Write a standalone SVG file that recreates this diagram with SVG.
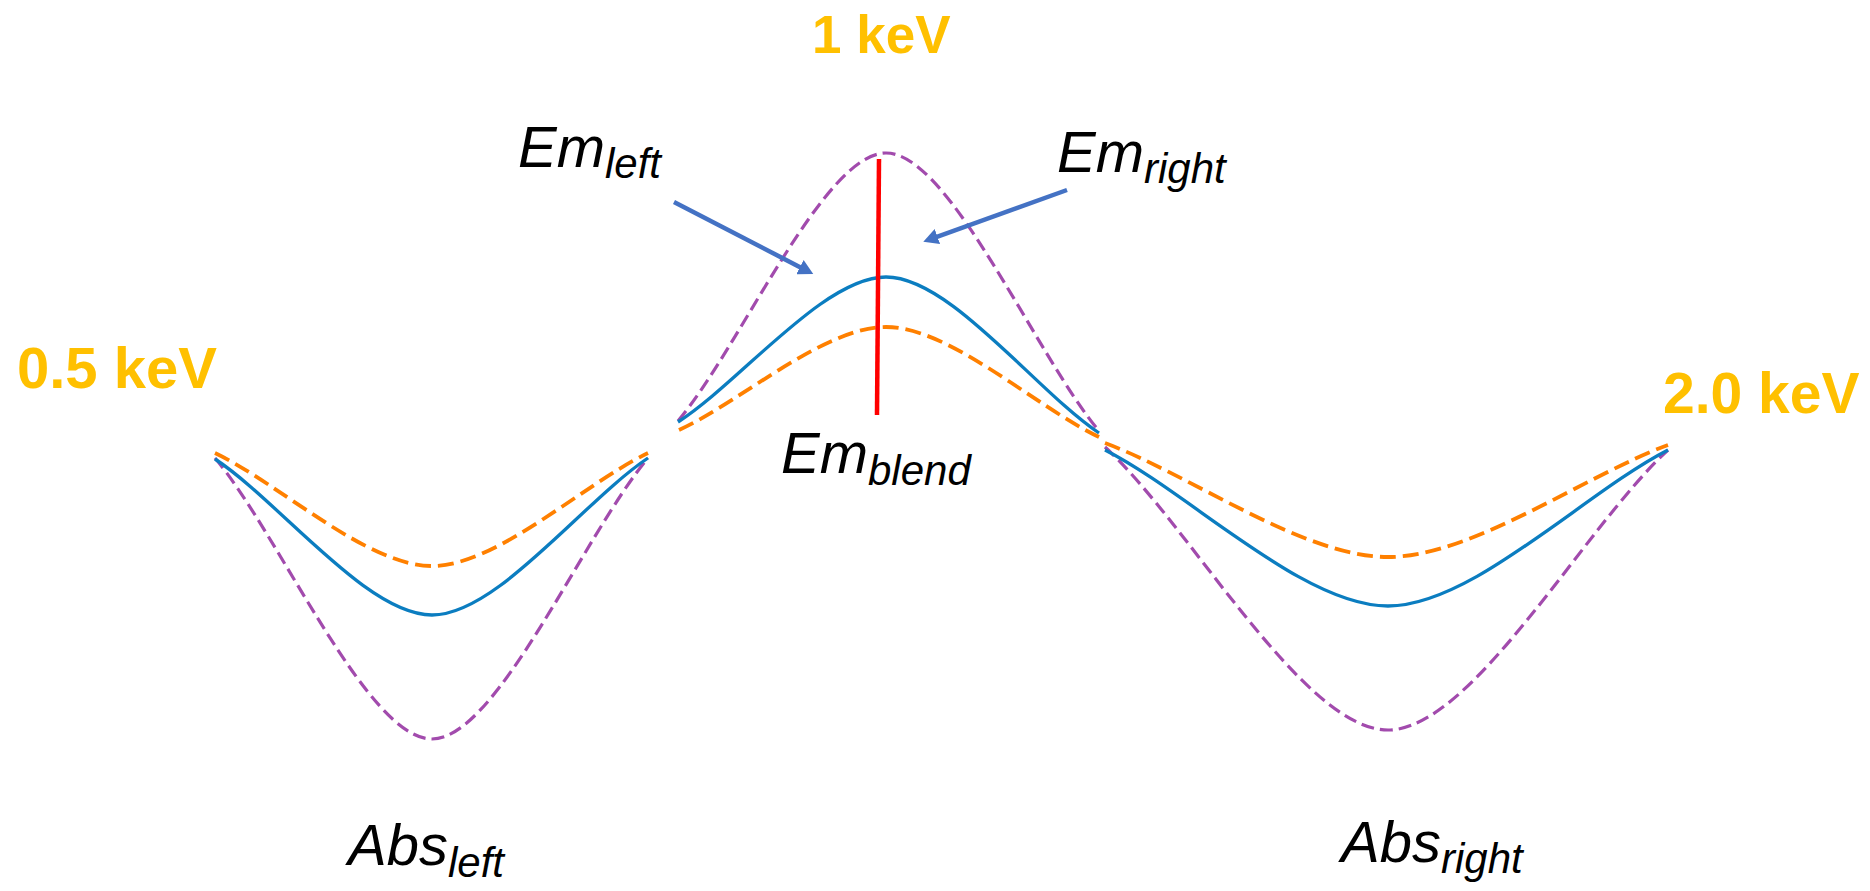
<svg xmlns="http://www.w3.org/2000/svg" width="1870" height="891" viewBox="0 0 1870 891">
  <style>
    .purple { fill: none; stroke: #A24BAD; stroke-width: 3.2; stroke-dasharray: 13 6; }
    .blue { fill: none; stroke: #0B7DC0; stroke-width: 3.3; }
    .orange { fill: none; stroke: #FF8000; stroke-width: 3.8; stroke-dasharray: 16 7; }
    .energy { font-family: "Liberation Sans", Arial, sans-serif; font-weight: bold; fill: #FFC000; }
    .lbl { font-family: "Liberation Sans", Arial, sans-serif; font-style: italic; font-size: 58px; fill: #000; }
    .sub { font-size: 42px; }
    .arrow { stroke: #4472C4; stroke-width: 4.5; fill: none; marker-end: url(#head); }
  </style>
  <defs>
    <marker id="head" markerUnits="userSpaceOnUse" markerWidth="15" markerHeight="16" refX="5" refY="8" orient="auto">
      <path d="M0,0 L15,8 L0,16 z" fill="#4472C4"/>
    </marker>
  </defs>
  <rect width="1870" height="891" fill="#fff"/>

  <g id="curves">
    <g id="abs-left-curves">
      <path class="purple" d="M215,458 C280.1,535.6 366.9,739 432,739 C496.8,739 583.2,535.6 648,458"/>
      <path class="blue" d="M215,459 C280.1,502.1 366.9,615 432,615 C496.8,615 583.2,501.3 648,458"/>
      <path class="orange" d="M215,453 C280.1,484.2 366.9,566 432,566 C496.8,566 583.2,484.2 648,453"/>
    </g>
    <g id="em-curves">
      <path class="purple" d="M678,421 C740.4,347 823.6,153 886,153 C949.9,153 1035.1,354.3 1099,431"/>
      <path class="blue" d="M678,422 C740.4,382 823.6,277 886,277 C949.9,277 1035.1,390 1099,433"/>
      <path class="orange" d="M679,430 C741,401.6 823.6,327 886,327 C949.9,327 1035.1,406.6 1099,437"/>
    </g>
    <g id="abs-right-curves">
      <path class="purple" d="M1105,447 C1189.9,525.1 1303.1,730 1388,730 C1472,730 1584,527.3 1668,450"/>
      <path class="blue" d="M1105,450 C1189.9,493.1 1303.1,606 1388,606 C1472,606 1584,493.1 1668,450"/>
      <path class="orange" d="M1105,443 C1189.9,474.5 1303.1,557 1388,557 C1472,557 1584,475.9 1668,445"/>
    </g>
    <line id="blend-line" x1="879" y1="159" x2="877" y2="415" stroke="#FF0000" stroke-width="4.5"/>
  </g>

  <g id="connectors">
    <line class="arrow" x1="674" y1="202" x2="804.4" y2="269.4"/>
    <line class="arrow" x1="1067" y1="190" x2="932.7" y2="238.3"/>
  </g>

  <g id="label-1kev"><text class="energy" x="812" y="53" font-size="53">1 keV</text></g>
  <g id="label-05kev"><text class="energy" x="17" y="388" font-size="58">0.5 keV</text></g>
  <g id="label-20kev"><text class="energy" x="1663" y="413" font-size="57">2.0 keV</text></g>

  <g id="label-em-left"><text class="lbl" x="518" y="167">Em<tspan class="sub" dy="11">left</tspan></text></g>
  <g id="label-em-right"><text class="lbl" x="1057" y="172">Em<tspan class="sub" dy="11">right</tspan></text></g>
  <g id="label-em-blend"><text class="lbl" x="781" y="473">Em<tspan class="sub" dy="12">blend</tspan></text></g>
  <g id="label-abs-left"><text class="lbl" x="348" y="865">Abs<tspan class="sub" dy="12">left</tspan></text></g>
  <g id="label-abs-right"><text class="lbl" x="1341" y="862">Abs<tspan class="sub" dy="11">right</tspan></text></g>
</svg>
